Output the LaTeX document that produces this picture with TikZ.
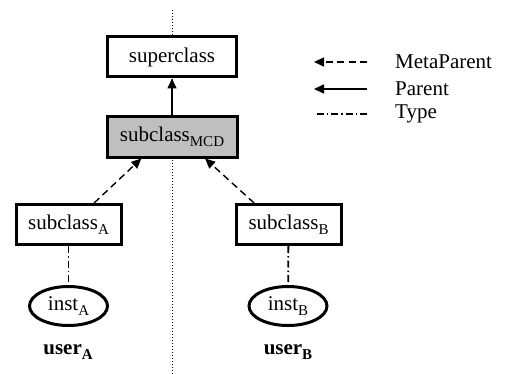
\documentclass[tikz,border=0pt]{standalone}
\usepackage{fontspec}
\setmainfont{Liberation Serif}
\usetikzlibrary{arrows.meta,shapes.geometric}
\newcommand{\lowsub}[1]{\raisebox{-0.55ex}{\fontsize{15}{15}\selectfont #1}}

\begin{document}
\begin{tikzpicture}[x=1pt, y=-1pt, font=\fontsize{21}{24}\selectfont,
    box/.style={draw, line width=3pt, fill=white, minimum height=40pt, inner sep=0pt},
    inst/.style={draw, ellipse, line width=3pt, fill=white, minimum width=78pt, minimum height=39pt, inner sep=0pt},
    legend/.style={anchor=west, inner sep=0pt},
    meta/.style={line width=1.4pt, dash pattern=on 7pt off 4.5pt, -{Triangle[length=10pt, width=9pt]}},
    parent/.style={line width=1.6pt, -{Triangle[length=10pt, width=9pt]}},
    typeline/.style={line width=1.8pt, dash pattern=on 7pt off 3pt on 1.5pt off 3pt}]
    \useasboundingbox (0,0) rectangle (505,374);
    \coordinate (top) at (172,10);
    \coordinate (bottom) at (172,374);
    \draw [dotted, line width=1pt] (top) -- (bottom);
    \node[box, minimum width=129pt] (super) at (172,57) {superclass};
    \node[box, minimum width=130pt, fill=black!25] (mcd) at (172,137) {subclass\lowsub{MCD}};
    \node[box, minimum width=105pt] (subA) at (68.5,224.5) {subclass\lowsub{A}};
    \node[box, minimum width=105pt] (subB) at (288.5,224.5) {subclass\lowsub{B}};
    \node[inst] (instA) at (68.5,306) {inst\lowsub{A}};
    \node[inst] (instB) at (288,306) {inst\lowsub{B}};
    \node[font=\fontsize{21}{24}\selectfont\bfseries] (userA) at (68,352) {user\lowsub{\bfseries A}};
    \node[font=\fontsize{21}{24}\selectfont\bfseries] (userB) at (288,352) {user\lowsub{\bfseries B}};
    \draw [parent] (mcd) -- (super);
    \draw [meta] (subA.40) -- (mcd.215);
    \draw [meta] (subB.148) -- (mcd.327);
    \draw [typeline] (subA) -- (instA);
    \draw [typeline] (subB) -- (instB);
    \node[legend] (lmeta) at (395,62) {MetaParent};
    \node[legend] (lparent) at (395,89) {Parent};
    \node[legend] (ltype) at (395,114) {Type};
    \draw [meta] ([xshift=-28pt]lmeta.west) -- ++(-53,0);
    \draw [parent] ([xshift=-28pt]lparent.west) -- ++(-53,0);
    \draw [typeline] ([xshift=-28pt]ltype.west) -- ++(-53,0);
\end{tikzpicture}
\end{document}
